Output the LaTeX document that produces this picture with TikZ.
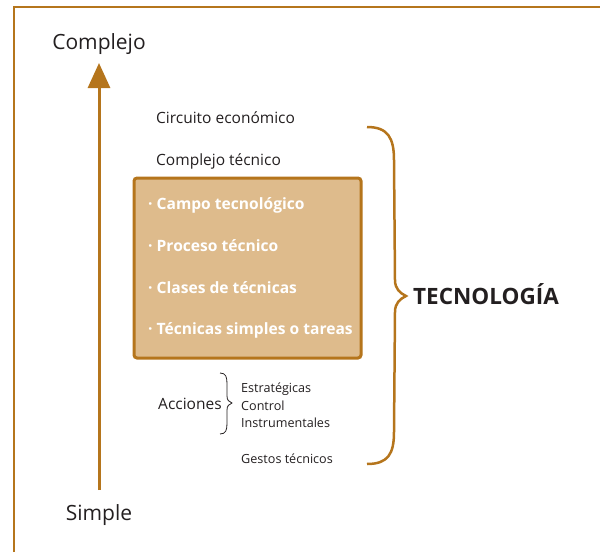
\documentclass[tikz,border=0pt]{standalone}
\usepackage{fontspec}
\setmainfont{Open Sans}
\usetikzlibrary{arrows.meta}
\definecolor{brn}{HTML}{B5751C}
\definecolor{boxfill}{HTML}{DEBB8C}
\definecolor{ink}{HTML}{231F20}
\tikzset{
  lbl/.style={anchor=base west, inner sep=0pt, text=ink, font=\fontsize{15.5}{18}\selectfont},
  small/.style={anchor=base west, inner sep=0pt, text=ink, font=\fontsize{12.6}{14}\selectfont},
  item/.style={anchor=base west, inner sep=0pt, text=white, font=\bfseries\fontsize{15.6}{18}\selectfont},
  axis/.style={anchor=base, inner sep=0pt, text=ink, font=\fontsize{21}{24}\selectfont},
}
\begin{document}
\begin{tikzpicture}[x=1pt,y=-1pt]
\useasboundingbox (0,0) rectangle (600,552);
% frame
\draw[brn, line width=2pt] (14,552) -- (14,7) -- (600,7);
% axis labels
\node[axis] (cx) at (99,49) {Complejo};
\node[axis] (sp) at (99,520) {Simple};
\coordinate (abot) at (99,490);
\coordinate (atop) at (99,63);
\draw[brn, line width=3pt, -{Triangle[width=22pt,length=25pt]}] (abot) -- (atop);
% texts
\node[lbl] (ce) at (156,123) {Circuito económico};
\node[lbl] (ct) at (156,165) {Complejo técnico};
% box
\node[draw=brn, fill=boxfill, line width=3pt, rounded corners=3pt, minimum width=227pt, minimum height=180pt, inner sep=0pt] (box) at (247.5,268) {};
\node[item] (i1) at (148,209) {· Campo tecnológico};
\node[item] (i2) at (148,251) {· Proceso técnico};
\node[item] (i3) at (148,293) {· Clases de técnicas};
\node[item] (i4) at (148,334) {· Técnicas simples o tareas};
% acciones
\node[lbl] (acc) at (158,409) {Acciones};
\node[small] (e1) at (241,392) {Estratégicas};
\node[small] (e2) at (241,410) {Control};
\node[small] (e3) at (241,427) {Instrumentales};
\node[small] (gt) at (241,463) {Gestos técnicos};
\draw[ink, line width=0.8pt] (220,373) .. controls (226,373) and (227,377) .. (227,384) -- (227,396) .. controls (227,400) and (229,402) .. (232,403) .. controls (229,404) and (227,406) .. (227,410) -- (227,423) .. controls (227,430) and (226,434) .. (220,434);
% big brace
\draw[brn, line width=2.5pt] (367,127) .. controls (388,127) and (394,138) .. (394,160) -- (395,280) .. controls (395,289) and (400,293) .. (406,296) .. controls (400,299) and (395,303) .. (395,312) -- (394,432) .. controls (394,454) and (388,464) .. (367,464);
\node[anchor=base west, inner sep=0pt, text=ink, font=\bfseries\fontsize{22.5}{25}\selectfont] (tec) at (413,304) {TECNOLOGÍA};
\end{tikzpicture}
\end{document}
